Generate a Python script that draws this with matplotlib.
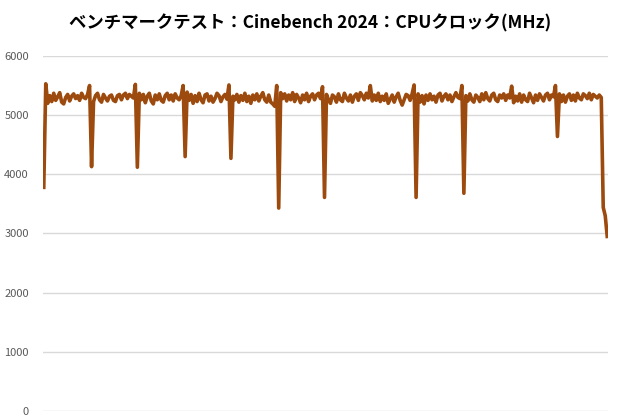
import matplotlib
matplotlib.use("Agg")
import matplotlib.pyplot as plt

plt.rcParams['font.family'] = ['Noto Sans CJK JP', 'DejaVu Sans']

# CPU clock samples (MHz)
start = [3780, 5530]
seg_a = [5200, 5330, 5230, 5370, 5250, 5310, 5380, 5220, 5190, 5300, 5350,
         5240, 5320, 5360, 5280, 5330, 5250, 5370, 5300, 5280, 5350]
dip_a = [5500, 4130, 5230]
seg_b = [5330, 5370, 5260, 5220, 5350, 5290, 5240, 5320, 5340, 5250,
         5230, 5330, 5350, 5260, 5340, 5370, 5280, 5350, 5320, 5290]
dip_b = [5520, 4120, 5370]
seg_c = [5260, 5350, 5210, 5320, 5370, 5240, 5190, 5340, 5260, 5360, 5250,
         5220, 5330, 5370, 5260, 5340, 5240, 5360, 5290, 5260, 5330]
dip_c = [5500, 4300, 5390]
seg_d = [5250, 5350, 5200, 5330, 5230, 5370, 5260, 5210, 5340, 5360,
         5240, 5320, 5220, 5280, 5370, 5330, 5230, 5310, 5350, 5270]
dip_d = [5510, 4270, 5320]
seg_e = [5260, 5350, 5220, 5330, 5250, 5370, 5230, 5320, 5200, 5340, 5260,
         5360, 5240, 5320, 5380, 5260, 5220, 5340, 5220, 5190, 5150]
dip_e = [5500, 3430, 5380]
seg_f = [5280, 5360, 5240, 5340, 5260, 5380, 5230, 5350, 5290, 5210,
         5340, 5260, 5370, 5230, 5320, 5360, 5260, 5340, 5370, 5280]
dip_f = [5480, 3610, 5350]
seg_g = [5260, 5200, 5340, 5310, 5220, 5360, 5260, 5230, 5370, 5290, 5240,
         5340, 5220, 5320, 5360, 5250, 5380, 5330, 5260, 5370, 5290]
spike_g = [5500, 5240]
seg_h = [5340, 5250, 5370, 5230, 5320, 5250, 5360, 5200, 5270, 5340,
         5220, 5310, 5370, 5250, 5170, 5260, 5350, 5330, 5250, 5360]
dip_h = [5510, 3610, 5360]
seg_i = [5220, 5330, 5190, 5340, 5250, 5360, 5260, 5320, 5220, 5340, 5370,
         5240, 5320, 5360, 5260, 5340, 5230, 5310, 5380, 5300, 5280]
dip_i = [5500, 3680, 5330]
seg_j = [5240, 5360, 5260, 5220, 5340, 5300, 5230, 5360, 5260, 5380, 5280,
         5240, 5340, 5370, 5260, 5230, 5340, 5290, 5360, 5250, 5340, 5290]
spike_j = [5490, 5210]
seg_k = [5320, 5240, 5360, 5220, 5340, 5260, 5230, 5370, 5290, 5210,
         5340, 5250, 5360, 5300, 5240, 5340, 5370, 5260, 5340, 5310]
dip_k = [5500, 4640, 5360]
seg_l = [5230, 5340, 5220, 5320, 5360, 5250, 5340, 5240, 5370, 5290, 5260,
         5360, 5330, 5280, 5370, 5260, 5350, 5320, 5290, 5340, 5300]
end = [3440, 3300, 2950]

clock = (start + seg_a + dip_a + seg_b + dip_b + seg_c + dip_c + seg_d + dip_d
         + seg_e + dip_e + seg_f + dip_f + seg_g + spike_g + seg_h + dip_h
         + seg_i + dip_i + seg_j + spike_j + seg_k + dip_k + seg_l + end)

yticks = [0, 1000, 2000, 3000, 4000, 5000, 6000]

fig = plt.figure(figsize=(6.2, 4.2), dpi=100)
ax = fig.add_axes([0.069, 0.0214, 0.912, 0.8453])

ax.plot(range(len(clock)), clock, color='#9C4A0E', linewidth=2.6,
        solid_joinstyle='round', zorder=3)

ax.set_xlim(-0.5, len(clock) - 0.5)
ax.set_ylim(0, 6000)
ax.set_yticks(yticks)
ax.set_yticklabels([str(v) for v in yticks], color='#595959', fontsize=8)
ax.set_xticks([])
ax.tick_params(axis='y', length=0, pad=10)
ax.grid(axis='y', color='#D9D9D9', linewidth=1)
for s in ax.spines.values():
    s.set_visible(False)

fig.text(0.5, 0.945, 'ベンチマークテスト：Cinebench 2024：CPUクロック(MHz)',
         ha='center', va='center', fontsize=12.5, fontweight='bold', color='#000000')

fig.savefig('out.png', dpi=100)
